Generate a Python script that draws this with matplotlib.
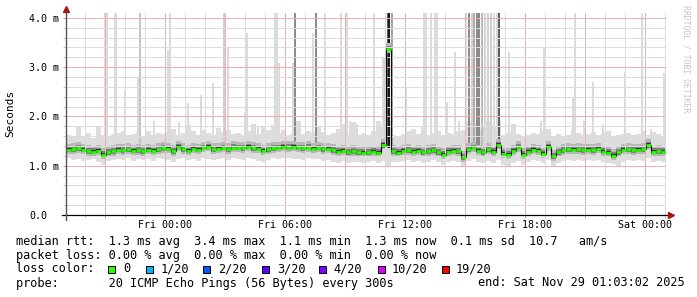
import matplotlib
matplotlib.use("Agg")
import matplotlib.pyplot as plt
import matplotlib.dates as mdates
from matplotlib.patches import Rectangle
from matplotlib.ticker import MultipleLocator, FuncFormatter
import numpy as np
import pandas as pd

plt.rcParams['font.family'] = ['DejaVu Sans Mono']

# 30 hours, one value per 15 minutes
t_start = "2025-11-27 19:03:02"
t_end = "2025-11-29 01:03:02"

median_ms = [
    1.32, 1.33, 1.35, 1.32, 1.29, 1.28, 1.30, 1.22, 1.27, 1.29,
    1.32, 1.31, 1.33, 1.30, 1.31, 1.29, 1.32, 1.30, 1.33, 1.35,
    1.34, 1.29, 1.38, 1.33, 1.30, 1.34, 1.32, 1.36, 1.38, 1.33,
    1.34, 1.36, 1.33, 1.37, 1.36, 1.35, 1.38, 1.35, 1.34, 1.30,
    1.33, 1.35, 1.36, 1.38, 1.37, 1.38, 1.36, 1.35, 1.37, 1.34,
    1.36, 1.33, 1.34, 1.31, 1.28, 1.30, 1.27, 1.29, 1.27, 1.26,
    1.27, 1.28, 1.26, 1.42, 3.37, 1.29, 1.26, 1.30, 1.31, 1.28,
    1.30, 1.27, 1.29, 1.31, 1.27, 1.22, 1.28, 1.30, 1.29, 1.17,
    1.33, 1.36, 1.30, 1.27, 1.33, 1.28, 1.42, 1.24, 1.22, 1.30,
    1.37, 1.22, 1.28, 1.32, 1.30, 1.24, 1.38, 1.19, 1.27, 1.31,
    1.33, 1.32, 1.33, 1.31, 1.32, 1.31, 1.34, 1.28, 1.26, 1.20,
    1.27, 1.32, 1.33, 1.31, 1.32, 1.33, 1.42, 1.28, 1.29, 1.28,
]

ping_min_ms = [
    1.15, 1.12, 1.14, 1.10, 1.12, 1.13, 1.08, 1.02, 1.10, 1.12,
    1.14, 1.12, 1.15, 1.10, 1.13, 1.12, 1.14, 1.10, 1.15, 1.13,
    1.12, 1.08, 1.14, 1.15, 1.12, 1.13, 1.10, 1.15, 1.14, 1.12,
    1.14, 1.16, 1.12, 1.15, 1.14, 1.12, 1.15, 1.13, 1.10, 1.08,
    1.12, 1.15, 1.14, 1.16, 1.15, 1.13, 1.14, 1.12, 1.15, 1.13,
    1.14, 1.10, 1.12, 1.08, 1.05, 1.10, 1.06, 1.08, 1.07, 1.05,
    1.08, 1.10, 1.06, 1.10, 0.98, 1.08, 1.07, 1.10, 1.12, 1.08,
    1.10, 1.06, 1.08, 1.12, 1.07, 1.02, 1.08, 1.10, 1.08, 1.00,
    1.10, 1.14, 1.08, 1.05, 1.10, 1.06, 1.12, 1.02, 1.00, 1.06,
    1.10, 1.02, 1.08, 1.12, 1.10, 1.05, 1.12, 0.98, 1.05, 1.10,
    1.12, 1.10, 1.12, 1.10, 1.12, 1.10, 1.12, 1.08, 1.06, 1.04,
    1.00, 1.08, 1.12, 1.10, 1.12, 1.10, 1.15, 1.08, 1.10, 1.08,
]

ping_max_ms = [
    1.62, 1.58, 1.78, 1.60, 1.66, 1.56, 1.80, 1.62, 1.60, 1.64,
    1.66, 1.70, 1.62, 1.64, 1.68, 1.60, 1.70, 1.62, 1.66, 1.64,
    1.68, 1.75, 1.62, 1.66, 1.82, 1.70, 1.62, 1.72, 1.66, 1.62,
    1.76, 1.68, 1.72, 1.64, 1.66, 1.62, 1.70, 1.85, 1.64, 1.78,
    1.72, 1.82, 1.66, 1.72, 1.62, 1.66, 1.90, 1.64, 1.70, 1.66,
    1.80, 1.68, 1.62, 1.66, 1.75, 1.85, 1.64, 1.88, 1.62, 1.66,
    1.62, 1.70, 1.90, 1.80, 1.90, 1.62, 1.60, 1.64, 1.70, 1.75,
    1.64, 1.80, 1.62, 1.66, 1.70, 1.62, 1.66, 1.64, 1.70, 1.72,
    1.90, 1.85, 1.75, 1.80, 1.90, 1.80, 1.90, 1.62, 1.66, 1.85,
    1.64, 1.60, 1.62, 1.66, 1.64, 1.70, 1.75, 1.60, 1.64, 1.60,
    1.62, 1.72, 1.66, 1.62, 1.64, 1.68, 1.62, 1.66, 1.70, 1.58,
    1.62, 1.64, 1.66, 1.62, 1.64, 1.70, 1.62, 1.68, 1.64, 1.60,
]

# single slow pings (time, highest rtt in ms, how many of the 20 pings were high)
spike_times = [
    "2025-11-27 21:00", "2025-11-27 21:06", "2025-11-27 21:30", "2025-11-27 21:33",
    "2025-11-27 22:00", "2025-11-27 22:39", "2025-11-27 22:45", "2025-11-27 23:27",
    "2025-11-28 00:09", "2025-11-28 00:15", "2025-11-28 00:42", "2025-11-28 01:09",
    "2025-11-28 01:48", "2025-11-28 02:24", "2025-11-28 02:57", "2025-11-28 03:09",
    "2025-11-28 04:00", "2025-11-28 04:06", "2025-11-28 04:39", "2025-11-28 05:30",
    "2025-11-28 05:36", "2025-11-28 05:42", "2025-11-28 06:24", "2025-11-28 06:30",
    "2025-11-28 07:24", "2025-11-28 07:33", "2025-11-28 08:00", "2025-11-28 08:48",
    "2025-11-28 09:06", "2025-11-28 09:15", "2025-11-28 09:36", "2025-11-28 10:27",
    "2025-11-28 10:54", "2025-11-28 11:00", "2025-11-28 11:09", "2025-11-28 11:12",
    "2025-11-28 11:21", "2025-11-28 12:03", "2025-11-28 12:57", "2025-11-28 13:03",
    "2025-11-28 13:18", "2025-11-28 13:30", "2025-11-28 13:36", "2025-11-28 14:06",
    "2025-11-28 14:30", "2025-11-28 14:42", "2025-11-28 15:03", "2025-11-28 15:12",
    "2025-11-28 15:21", "2025-11-28 15:27", "2025-11-28 15:36", "2025-11-28 15:42",
    "2025-11-28 15:51", "2025-11-28 16:00", "2025-11-28 16:09", "2025-11-28 16:18",
    "2025-11-28 16:27", "2025-11-28 16:36", "2025-11-28 16:42", "2025-11-28 17:12",
    "2025-11-28 17:21", "2025-11-28 18:48", "2025-11-28 18:57", "2025-11-28 20:24",
    "2025-11-28 20:30", "2025-11-28 20:57", "2025-11-28 21:24", "2025-11-28 21:54",
    "2025-11-28 23:00", "2025-11-28 23:51", "2025-11-29 00:18", "2025-11-29 00:57",
]
spike_top_ms = [
    4.1, 4.1, 4.1, 4.1,
    2.54, 2.78, 4.1, 1.90,
    3.35, 4.1, 1.88, 2.27,
    2.43, 2.68, 4.1, 3.39,
    2.09, 3.70, 1.80, 4.1,
    4.1, 3.08, 3.08, 4.1,
    3.70, 4.1, 4.1, 4.1,
    4.1, 1.90, 1.85, 4.1,
    3.20, 3.20, 4.1, 4.1,
    4.1, 2.60, 4.1, 4.1,
    4.1, 4.1, 4.1, 2.30,
    3.30, 1.90, 4.1, 4.1,
    4.1, 4.1, 4.1, 4.1,
    4.1, 4.1, 4.1, 4.1,
    4.1, 4.1, 4.1, 3.30,
    1.85, 1.90, 3.40, 2.40,
    4.1, 1.90, 2.70, 1.85,
    2.90, 4.1, 1.75, 2.88,
]
spike_pings_high = [
    1, 1, 1, 1,
    1, 1, 3, 1,
    1, 1, 1, 1,
    1, 1, 2, 1,
    1, 1, 1, 1,
    1, 1, 1, 8,
    1, 8, 1, 1,
    1, 1, 1, 1,
    1, 2, 12, 18,
    6, 1, 1, 1,
    1, 1, 1, 1,
    1, 1, 1, 8,
    2, 5, 8, 8,
    4, 2, 2, 2,
    1, 1, 12, 1,
    1, 1, 1, 1,
    1, 1, 1, 1,
    1, 1, 1, 1,
]

loss_labels = ["0", "1/20", "2/20", "3/20", "4/20", "10/20", "19/20"]
loss_colors = ["#26ff00", "#00b8ff", "#0059ff", "#5e00ff", "#7e00ff", "#dd00ff", "#ff0000"]

W, H = 697, 297


def px(x, y):
    return x / W, 1 - y / H


fig = plt.figure(figsize=(W / 100, H / 100), dpi=100, facecolor="white")
ax = fig.add_axes([66 / W, (H - 215) / H, 600 / W, 202 / H])

times = pd.date_range(t_start, periods=len(median_ms), freq="15min")
edges = mdates.date2num(list(times) + [pd.Timestamp(t_end)])
med = np.array(median_ms)

# smoke, from light outside to dark core
ax.stairs(ping_max_ms, edges, baseline=ping_min_ms, fill=True, color="#DDDDDD", zorder=1.0)

order = np.argsort(spike_pings_high, kind="stable")
sx = mdates.date2num(pd.to_datetime(spike_times))
for k in order:
    g = max(0.86 - 0.045 * (spike_pings_high[k] - 1), 0.1)
    w = 8 if spike_pings_high[k] < 10 else 5
    ax.bar(sx[k], spike_top_ms[k] - 1.35, bottom=1.35, width=w / 1440,
           color=(g, g, g), linewidth=0, zorder=1.1)

ax.stairs(med + 0.13, edges, baseline=med - 0.09, fill=True, color="#B8B8B8", zorder=1.2)
ax.stairs(med + 0.07, edges, baseline=med - 0.05, fill=True, color="#808080", zorder=1.3)
ax.stairs(med + 0.035, edges, baseline=med - 0.025, fill=True, color="#383838", zorder=1.4)

# median, coloured by loss
ax.stairs(med, edges, baseline=None, color="black", linewidth=0.8, zorder=2.6)
ax.hlines(med, edges[:-1], edges[1:], color=loss_colors[0], linewidth=2.0, zorder=2.7)

ax.set_xlim(edges[0], edges[-1])
ax.set_ylim(0, 4.1)

ax.xaxis.set_major_locator(mdates.HourLocator(byhour=range(0, 24, 3)))
ax.xaxis.set_minor_locator(mdates.HourLocator())


def xfmt(v, pos):
    d = mdates.num2date(v)
    h = int(round(v * 24)) % 24
    return d.strftime("%a %H:%M") if h % 6 == 0 else ""


ax.xaxis.set_major_formatter(FuncFormatter(xfmt))
ax.yaxis.set_major_locator(MultipleLocator(1.0))
ax.yaxis.set_minor_locator(MultipleLocator(0.2))
ax.yaxis.set_major_formatter(FuncFormatter(lambda v, p: "0.0" if v == 0 else f"{v:.1f} m"))

# light grid (the original is a fine 1px dotted line)
ax.set_axisbelow(False)
ax.grid(which="minor", color="#DCDCDC", linestyle=(0.5, (1, 1)), linewidth=0.72, antialiased=False)
ax.grid(which="major", color="#F0B0B0", linestyle=(0.5, (1, 1)), linewidth=0.72, antialiased=False)

ax.tick_params(axis="x", which="major", length=2.2, width=0.72, color="#EA9090", pad=1.6, labelsize=7.2)
ax.tick_params(axis="x", which="minor", length=2.2, width=0.72, color="#C8C8C8")
ax.tick_params(axis="y", which="major", length=2.2, width=0.72, color="#EA9090", pad=24.1, labelsize=7.2)
ax.tick_params(axis="y", which="minor", length=2.2, width=0.72, color="#C8C8C8")
for lab in ax.get_yticklabels():
    lab.set_horizontalalignment("left")

for s in ax.spines.values():
    s.set_visible(False)
ax.plot([-4 / 600, 1 + 3 / 600], [0, 0], transform=ax.transAxes, color="black",
        linewidth=0.9, clip_on=False, zorder=3)
ax.plot([0, 0], [-5 / 202, 1 + 2 / 202], transform=ax.transAxes, color="#555555",
        linewidth=1.0, clip_on=False, zorder=3)
ax.plot([1 + 5 / 600], [0], marker=">", markersize=4, color="#A01818",
        transform=ax.transAxes, clip_on=False, zorder=3)
ax.plot([0], [1 + 4 / 202], marker="^", markersize=4, color="#A01818",
        transform=ax.transAxes, clip_on=False, zorder=3)

fig.text(*px(10, 113), "Seconds", rotation=90, ha="center", va="center", fontsize=8)
fig.text(*px(686, 5), "RRDTOOL / TOBI OETIKER", rotation=270, ha="center", va="top",
         fontsize=5.9, color="#C4C4C4")

fs = 8.55
fig.text(*px(16, 241), "median rtt:  1.3 ms avg  3.4 ms max  1.1 ms min  1.3 ms now  0.1 ms sd  10.7   am/s",
         fontsize=fs, va="center")
fig.text(*px(16, 255), "packet loss: 0.00 % avg  0.00 % max  0.00 % min  0.00 % now",
         fontsize=fs, va="center")
fig.text(*px(16, 269), "loss color:", fontsize=fs, va="center")
box_x = [108, 146, 203, 262, 319, 378, 442]
lab_x = [123, 161, 218, 277, 333, 392, 456]
for bx, lx, lab, col in zip(box_x, lab_x, loss_labels, loss_colors):
    fig.patches.append(Rectangle(px(bx, 273), 7 / W, 7 / H, transform=fig.transFigure,
                                 facecolor=col, edgecolor="black", linewidth=0.7))
    fig.text(*px(lx, 269), lab, fontsize=fs, va="center")
fig.text(*px(16, 283), "probe:       20 ICMP Echo Pings (56 Bytes) every 300s", fontsize=fs, va="center")
fig.text(*px(478, 283), "end: Sat Nov 29 01:03:02 2025", fontsize=fs, va="center")

fig.savefig("out.png", dpi=100, facecolor="white")
